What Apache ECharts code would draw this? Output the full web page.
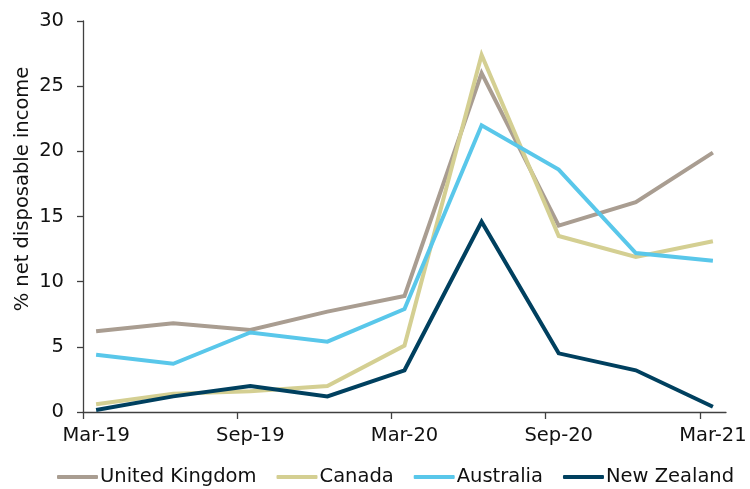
<!DOCTYPE html>
<html>
<head>
<meta charset="utf-8">
<script src="https://cdn.jsdelivr.net/npm/echarts@6/dist/echarts.min.js"></script>
<style>
  html, body { margin: 0; padding: 0; background: #fff; }
  #chart { width: 750px; height: 489px; }
</style>
</head>
<body>
<div id="chart"></div>
<script>
// Quarterly household saving ratio, % of net disposable income
const quarters = ['Mar-19', 'Jun-19', 'Sep-19', 'Dec-19', 'Mar-20', 'Jun-20', 'Sep-20', 'Dec-20', 'Mar-21'];
const unitedKingdom = [6.2, 6.8, 6.3, 7.7, 8.9, 26.0, 14.3, 16.1, 19.9];
const canada        = [0.6, 1.4, 1.6, 2.0, 5.1, 27.4, 13.5, 11.9, 13.1];
const australia     = [4.4, 3.7, 6.1, 5.4, 7.9, 22.0, 18.6, 12.2, 11.6];
const newZealand    = [0.15, 1.2, 2.0, 1.2, 3.2, 14.6, 4.5, 3.2, 0.4];
const yTicks = [0, 5, 10, 15, 20, 25, 30];

const FONT = 'DejaVu Sans';
const TEXT = '#111';
const AXIS = '#404040';

// Labels sit on every second quarter; tick marks sit just before them
const pad = 0.17;
const labelIdx = quarters.map((q, i) => i).filter(i => i % 2 === 0);
const tickIdx = labelIdx.map(i => i - pad);

const toPairs = arr => arr.map((v, i) => [i, v]);

const seriesDefs = [
  { name: 'United Kingdom', data: unitedKingdom, color: '#A99D91' },
  { name: 'Canada',         data: canada,        color: '#D4CF92' },
  { name: 'Australia',      data: australia,     color: '#59C7EA' },
  { name: 'New Zealand',    data: newZealand,    color: '#00405F' }
];

const chart = echarts.init(document.getElementById('chart'), null, { renderer: 'canvas' });
chart.setOption({
  animation: false,
  backgroundColor: '#fff',
  grid: { left: 83, right: 24, top: 21, bottom: 77, containLabel: false },
  xAxis: {
    type: 'value',
    min: -pad,
    max: quarters.length - 1 + pad,
    splitLine: { show: false },
    axisLine: { show: true, onZero: false, lineStyle: { color: AXIS, width: 1.3 } },
    axisTick: { show: true, length: 7, inside: false, customValues: tickIdx, lineStyle: { color: AXIS, width: 1.3 } },
    axisLabel: {
      customValues: labelIdx,
      formatter: v => quarters[Math.round(v)],
      color: TEXT, fontFamily: FONT, fontSize: 19.5, margin: 14
    }
  },
  yAxis: {
    type: 'value',
    min: yTicks[0],
    max: yTicks[yTicks.length - 1],
    interval: 5,
    splitLine: { show: false },
    axisLine: { show: true, onZero: false, lineStyle: { color: AXIS, width: 1.3 } },
    axisTick: { show: true, length: 6, lineStyle: { color: AXIS, width: 1.3 } },
    axisLabel: { color: TEXT, fontFamily: FONT, fontSize: 19.5, margin: 19 }
  },
  graphic: [{
    type: 'text',
    x: 23, y: 189,
    rotation: Math.PI / 2,
    style: {
      text: '% net disposable income',
      fill: TEXT, font: '19.5px "DejaVu Sans"',
      align: 'center', verticalAlign: 'middle'
    }
  }],
  legend: {
    left: 57, top: 467, padding: 0,
    itemWidth: 41, itemHeight: 4, itemGap: 20,
    icon: 'roundRect',
    textStyle: { color: TEXT, fontFamily: FONT, fontSize: 19.5, padding: [0, 0, 0, -3] },
    data: seriesDefs.map(s => s.name)
  },
  series: seriesDefs.map(s => ({
    name: s.name,
    type: 'line',
    data: toPairs(s.data),
    showSymbol: false,
    symbol: 'none',
    color: s.color,
    lineStyle: { color: s.color, width: 4, join: 'miter' }
  }))
});
</script>
</body>
</html>
